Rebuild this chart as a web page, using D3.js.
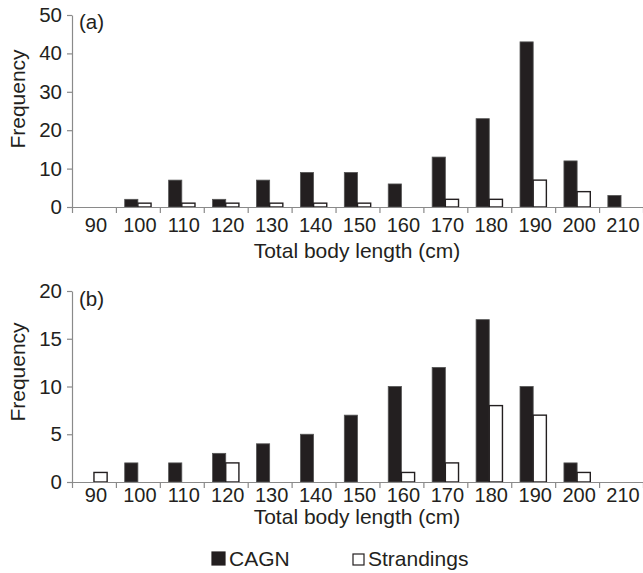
<!DOCTYPE html>
<html><head><meta charset="utf-8">
<script src="https://cdn.jsdelivr.net/npm/d3@7"></script>
<style>
body{margin:0;background:#fff;}
svg{display:block;font-family:"Liberation Sans",Arial,sans-serif;}
</style></head>
<body><svg id="c" width="643" height="573"></svg>
<script>
const categories = ["90","100","110","120","130","140","150","160","170","180","190","200","210"];
const cagnA = [0,2,7,2,7,9,9,6,13,23,43,12,3];
const strandA = [0,1,1,1,1,1,1,0,2,2,7,4,0];
const cagnB = [0,2,2,3,4,5,7,10,12,17,10,2,0];
const strandB = [1,0,0,2,0,0,0,1,2,8,7,1,0];
const yTicksA = [0,10,20,30,40,50];
const yTicksB = [0,5,10,15,20];
const seriesNames = ["CAGN","Strandings"];
const xTitle = "Total body length (cm)";
const yTitle = "Frequency";

const ink = "#231f20", axisCol = "#8a8a8a";
const FF = "Liberation Sans, Arial, sans-serif";
const svg = d3.select("#c");
const left = 72, right = 643;

function panel(cfg){
  const x = d3.scaleBand().domain(categories).range([left,right]).paddingInner(0).paddingOuter(0);
  const y = d3.scaleLinear().domain([0,cfg.ymax]).range([cfg.y0,cfg.y1]);
  const bw = x.bandwidth()*0.3;
  const g = svg.append("g");
  g.selectAll(".b").data(categories).join("rect")
    .attr("x", d=>x(d)+x.bandwidth()/2-bw).attr("width", bw)
    .attr("y", (d,i)=>y(cfg.a[i])).attr("height",(d,i)=>y(0)-y(cfg.a[i]))
    .attr("fill", ink).attr("stroke", "#555").attr("stroke-width",0.8)
    .style("display",(d,i)=>cfg.a[i]>0?null:"none");
  g.selectAll(".w").data(categories).join("rect")
    .attr("x", d=>x(d)+x.bandwidth()/2).attr("width", bw)
    .attr("y", (d,i)=>y(cfg.s[i])).attr("height",(d,i)=>y(0)-y(cfg.s[i]))
    .attr("fill", "#fff").attr("stroke", ink).attr("stroke-width",1.4)
    .style("display",(d,i)=>cfg.s[i]>0?null:"none");
  const ya = g.append("g").attr("transform",`translate(${left},0)`)
    .call(d3.axisLeft(y).tickValues(cfg.yt).tickSize(5).tickSizeOuter(0).tickPadding(5));
  ya.attr("font-family",FF);
  ya.selectAll("path,line").attr("stroke",axisCol).attr("stroke-width",1.2);
  ya.selectAll("text").attr("fill",ink).style("font-size","20.5px");
  const xb = d3.scaleLinear().domain([0,categories.length]).range([left,right]);
  const xa = g.append("g").attr("transform",`translate(0,${cfg.y0})`)
    .call(d3.axisBottom(xb).tickValues(d3.range(categories.length+1)).tickFormat("").tickSize(6).tickSizeOuter(0));
  xa.selectAll("path,line").attr("stroke",axisCol).attr("stroke-width",1.2);
  const xl = g.append("g").attr("transform",`translate(2,${cfg.y0+cfg.lab})`)
    .call(d3.axisBottom(x).tickSize(0).tickPadding(0));
  xl.attr("font-family",FF);
  xl.select(".domain").remove();
  xl.selectAll("text").attr("fill",ink).style("font-size","20px");
  g.append("text").attr("x",357).attr("y",cfg.titleY).attr("text-anchor","middle")
    .attr("fill",ink).style("font-size","21px").text(xTitle);
  g.append("text").attr("transform",`translate(25,${cfg.yTitleC}) rotate(-90)`).attr("text-anchor","middle")
    .attr("fill",ink).style("font-size","21px").text(yTitle);
  g.append("text").attr("x",79).attr("y",cfg.tagY).attr("fill",ink).style("font-size","20.5px").text(cfg.tag);
}

panel({a:cagnA,s:strandA,ymax:50,yt:yTicksA,y0:207,y1:15,lab:11,titleY:258,yTitleC:99,tagY:29,tag:"(a)"});
panel({a:cagnB,s:strandB,ymax:20,yt:yTicksB,y0:482,y1:291,lab:6,titleY:524,yTitleC:372,tagY:306,tag:"(b)"});

const lg = svg.append("g");
const items = [{x:212,fill:ink,size:13,name:seriesNames[0]},{x:353,fill:"#fff",size:11,name:seriesNames[1]}];
lg.selectAll("rect").data(items).join("rect")
  .attr("x",d=>d.x).attr("y",d=>565-d.size).attr("width",d=>d.size).attr("height",d=>d.size)
  .attr("fill",d=>d.fill).attr("stroke",ink).attr("stroke-width",1.2);
lg.selectAll("text").data(items).join("text")
  .attr("x",d=>d.x+d.size+4).attr("y",566).attr("fill",ink).style("font-size","21px").text(d=>d.name);
</script></body></html>
